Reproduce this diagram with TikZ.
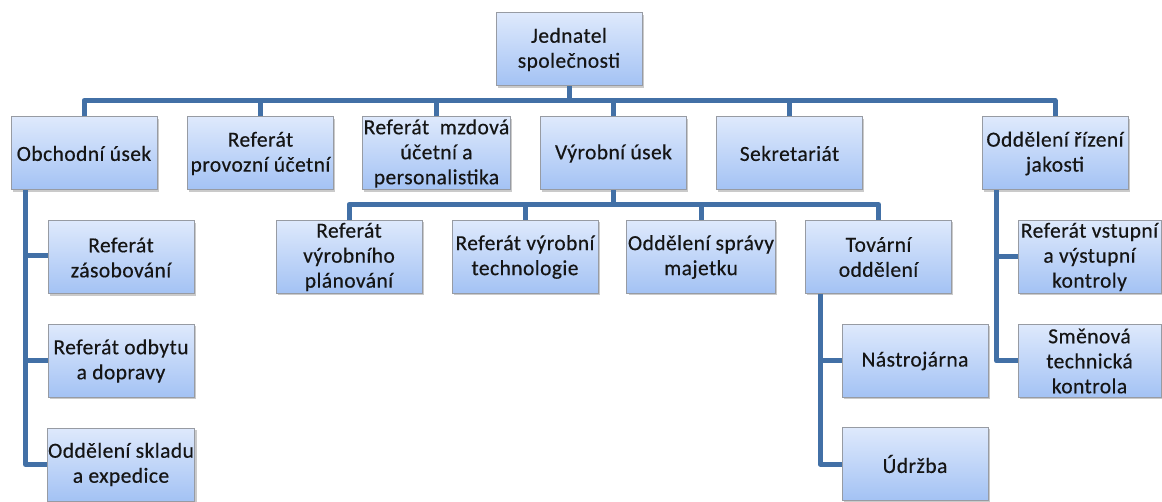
\documentclass[tikz,border=0pt]{standalone}
\usepackage{fontspec}
\newfontfamily\boxfont{Carlito}[FakeBold=0.4,LetterSpace=2]
\usetikzlibrary{shadows,calc}
\definecolor{boxtop}{HTML}{DEE9FC}
\definecolor{boxbot}{HTML}{A3C2F4}
\definecolor{boxborder}{HTML}{979BA3}
\definecolor{connc}{HTML}{4270A6}
\definecolor{txt}{HTML}{151515}
\tikzset{
  box/.style={draw=boxborder, line width=1pt, top color=boxtop, bottom color=boxbot,
    minimum width=146pt, minimum height=73pt, inner sep=1pt, align=center,
    text=txt, font=\boxfont\fontsize{21.5}{25}\selectfont,
    drop shadow={shadow xshift=1.8pt, shadow yshift=-1.8pt, opacity=0.35, fill=black!60}},
  conn/.style={draw=connc, line width=5pt, line join=round, line cap=butt}
}
\begin{document}
\begin{tikzpicture}[x=1pt,y=-1pt]
\useasboundingbox (0,0) rectangle (1162,502);
% level 0
\node[box] (jed) at (569,49.5) {Jednatel\\společnosti};
% level 1
\node[box] (obch) at (84,153.5) {Obchodní úsek};
\node[box] (prov) at (260.5,153.5) {Referát\\provozní účetní};
\node[box] (mzd) at (436.5,153.5) {Referát\ \ mzdová\\účetní a\\personalistika};
\node[box] (vyr) at (613.5,153.5) {Výrobní úsek};
\node[box] (sek) at (789.5,153.5) {Sekretariát};
\node[box] (jak) at (1055,153.5) {Oddělení řízení\\jakosti};
% under Výrobní úsek
\node[box] (plan) at (349,257) {Referát\\výrobního\\plánování};
\node[box] (tech) at (525,257) {Referát výrobní\\technologie};
\node[box] (spr) at (701,257) {Oddělení správy\\majetku};
\node[box] (tov) at (878.5,257) {Tovární\\oddělení};
% under Obchodní úsek
\node[box] (zas) at (121,257.5) {Referát\\zásobování};
\node[box] (odb) at (121,361) {Referát odbytu\\a dopravy};
\node[box] (skl) at (121,464.5) {Oddělení skladu\\a expedice};
% under Tovární oddělení
\node[box] (nas) at (915,361) {Nástrojárna};
\node[box] (udr) at (915,464) {Údržba};
% under Oddělení řízení jakosti
\node[box, minimum width=143pt] (vst) at (1089.5,257) {Referát vstupní\\a výstupní\\kontroly};
\node[box, minimum width=143pt] (smen) at (1089.5,361) {Směnová\\technická\\kontrola};
% connectors: main bar
\draw[conn] (obch.north) -- ++(0,-16) -| (jak.north);
\draw[conn] (jed.south) -- ++(0,15.5);
\draw[conn] (prov.north) -- ++(0,-16);
\draw[conn] (mzd.north) -- ++(0,-16);
\draw[conn] (vyr.north) -- ++(0,-16);
\draw[conn] (sek.north) -- ++(0,-16);
% Výrobní úsek bar
\draw[conn] (plan.north) -- ++(0,-15.5) -| (tov.north);
\draw[conn] (vyr.south) -- ++(0,16);
\draw[conn] (tech.north) -- ++(0,-15.5);
\draw[conn] (spr.north) -- ++(0,-15.5);
% Obchodní úsek children
\draw[conn] ([xshift=15pt]obch.south west) |- (skl.west);
\draw[conn] ([xshift=15pt]obch.south west) |- ([yshift=2pt]zas.west);
\draw[conn] ([xshift=15pt]obch.south west) |- (odb.west);
% Tovární oddělení children
\draw[conn] ([xshift=15pt]tov.south west) |- (udr.west);
\draw[conn] ([xshift=15pt]tov.south west) |- (nas.west);
% Oddělení řízení jakosti children
\draw[conn] ([xshift=15pt]jak.south west) |- (smen.west);
\draw[conn] ([xshift=15pt]jak.south west) |- (vst.west);
\end{tikzpicture}
\end{document}
